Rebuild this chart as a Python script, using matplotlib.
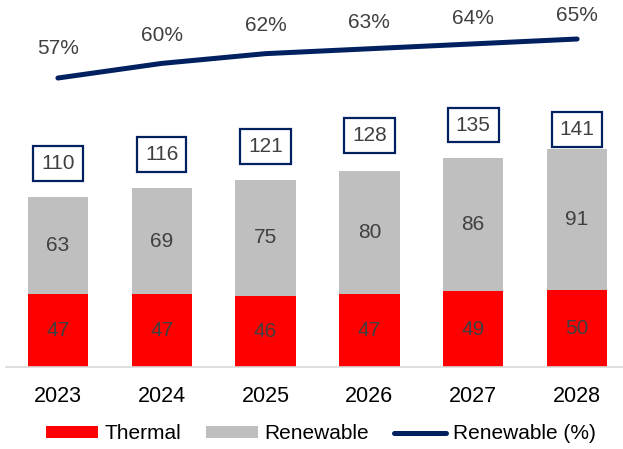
import matplotlib
matplotlib.use("Agg")
import matplotlib.pyplot as plt
import numpy as np

plt.rcParams["font.family"] = ["Liberation Sans", "DejaVu Sans"]

# ── data ──────────────────────────────────────────
years = ["2023", "2024", "2025", "2026", "2027", "2028"]
thermal = [47, 47, 46, 47, 49, 50]
renewable = [63, 69, 75, 80, 86, 91]
totals = [110, 116, 121, 128, 135, 141]
renewable_pct = [57, 60, 62, 63, 64, 65]

# ── colours ───────────────────────────────────────
RED = "#FF0000"
GRAY = "#BFBFBF"
NAVY = "#002060"
LABEL = "#404040"

fig = plt.figure(figsize=(6.23, 4.49), dpi=100)
ax = fig.add_axes([6 / 623, 82 / 449, 623 / 623, 367 / 449])
ax2 = ax.twinx()
ax2.set_position(ax.get_position())

x = np.arange(len(years))
w = 0.58
b1 = ax.bar(x, thermal, width=w, color=RED, label="Thermal", zorder=2)
b2 = ax.bar(x, renewable, width=w, bottom=thermal, color=GRAY, label="Renewable", zorder=2)

ax.set_xlim(-0.5, 5.5)
ax.set_ylim(0, 237.5)

# labels inside segments
for i in range(len(years)):
    ax.text(x[i], thermal[i] / 2, str(thermal[i]), ha="center", va="center",
            fontsize=15, color=LABEL)
    ax.text(x[i], thermal[i] + renewable[i] / 2, str(renewable[i]), ha="center",
            va="center", fontsize=15, color=LABEL)

# boxed totals
box_offsets = [24, 24, 24, 24, 24, 14]
for i, t in enumerate(totals):
    ax.annotate(str(t), (x[i], t), xytext=(0, box_offsets[i]), textcoords="offset points",
                ha="center", va="center", fontsize=15, color=LABEL,
                bbox=dict(boxstyle="square,pad=0.38", fc="white", ec=NAVY, lw=1.6),
                zorder=5)

# renewable share line
ln, = ax2.plot(x, renewable_pct, color=NAVY, lw=3.6, solid_capstyle="round",
               label="Renewable (%)", zorder=4)
ax2.set_ylim(-2.26, 73.0)
pct_offsets = [21, 20, 20, 19, 18.5, 17]
for i, p in enumerate(renewable_pct):
    ax2.annotate(f"{p}%", (x[i], p), xytext=(0, pct_offsets[i]), textcoords="offset points",
                 ha="center", va="center", fontsize=15, color=LABEL)

# axes cosmetics
for a in (ax, ax2):
    for s in a.spines.values():
        s.set_visible(False)
ax.spines["bottom"].set_visible(True)
ax.spines["bottom"].set_color("#D9D9D9")
ax.spines["bottom"].set_linewidth(1.2)
ax.set_yticks([])
ax2.set_yticks([])
ax.set_xticks(x)
ax.set_xticklabels(years, fontsize=15.5, color="black")
ax.tick_params(axis="x", length=0, pad=13.5)

fig.legend(handles=[b1, b2, ln], loc="center", bbox_to_anchor=(0.515, 0.034),
           ncol=3, frameon=False, fontsize=15, handlelength=2.5, handleheight=0.5,
           handletextpad=0.3, columnspacing=1.2, borderpad=0)

fig.savefig("out.png", dpi=100)
